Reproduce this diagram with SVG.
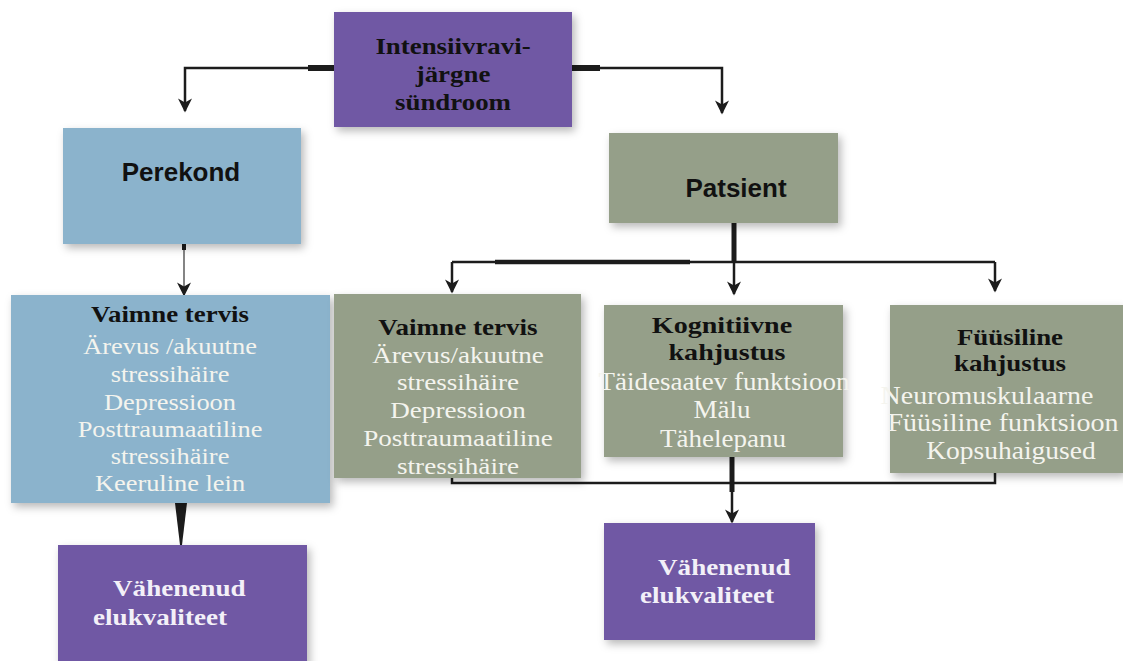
<svg xmlns="http://www.w3.org/2000/svg" width="1123" height="661" viewBox="0 0 1123 661">
<style>
.purple{fill:#7058a4}
.blue{fill:#8bb3cc}
.green{fill:#959f89}
.box{filter:url(#sh)}
.ttl{font-family:"Liberation Serif",serif;font-weight:bold;fill:#111;text-anchor:middle}
.body{font-family:"Liberation Serif",serif;fill:#f4f4ee;text-anchor:middle}
.wt{font-family:"Liberation Serif",serif;font-weight:bold;fill:#f3f0f8;font-size:24px}
.sans{font-family:"Liberation Sans",Arial,sans-serif;font-weight:bold;fill:#111;text-anchor:middle;font-size:26px}
.ln{fill:none;stroke:#1c1c1c;stroke-width:2.5}
</style>
<defs>
<filter id="sh" x="-10%" y="-10%" width="125%" height="130%">
<feDropShadow dx="3" dy="4" stdDeviation="4" flood-color="#000" flood-opacity="0.28"/>
</filter>
<marker id="ar" viewBox="0 0 10 10" refX="9" refY="5" markerWidth="16" markerHeight="14" markerUnits="userSpaceOnUse" orient="auto">
<path d="M0,0 L10,5 L0,10 L3,5 z" fill="#1c1c1c"/>
</marker>
</defs>
<rect width="1123" height="661" fill="#fff"/>

<g id="connectors">
<path class="ln" d="M334,68 H185 V111" marker-end="url(#ar)"/>
<rect x="308" y="65" width="26" height="6" fill="#1c1c1c"/>
<path class="ln" d="M572,68 H722 V113" marker-end="url(#ar)"/>
<rect x="572" y="65" width="28" height="6" fill="#1c1c1c"/>
<path d="M184,244 V295" fill="none" stroke="#333" stroke-width="1.2" marker-end="url(#ar)"/>
<rect x="182" y="244" width="4" height="6" fill="#1c1c1c"/>
<polygon points="175,503 187,503 182,545 180,545" fill="#1c1c1c"/>
<path d="M734,223 V262" fill="none" stroke="#1c1c1c" stroke-width="5"/>
<path class="ln" d="M452,262 H995"/>
<path d="M495,262 H690" fill="none" stroke="#1c1c1c" stroke-width="4.5"/>
<path class="ln" d="M452,262 V292" marker-end="url(#ar)"/>
<path class="ln" d="M734,262 V294" marker-end="url(#ar)"/>
<path class="ln" d="M995,262 V291" marker-end="url(#ar)"/>
<path class="ln" d="M452,478 V483 H995 V472"/>
<path d="M732,457 V492" fill="none" stroke="#1c1c1c" stroke-width="5"/>
<path class="ln" d="M732,488 V522" marker-end="url(#ar)"/>
</g>

<g id="n-syndroom">
<rect class="purple box" x="334" y="12" width="238" height="115"/>
<text class="ttl" font-size="24" transform="translate(453,54) scale(1.12,1)">Intensiivravi-</text>
<text class="ttl" font-size="24" transform="translate(453,82) scale(1.12,1)">järgne</text>
<text class="ttl" font-size="24" transform="translate(453,110) scale(1.12,1)">sündroom</text>
</g>

<g id="n-perekond">
<rect class="blue box" x="63" y="128" width="238" height="116"/>
<text class="sans" x="181" y="181">Perekond</text>
</g>

<g id="n-patsient">
<rect class="green box" x="609" y="133" width="229" height="90"/>
<text class="sans" x="736" y="197">Patsient</text>
</g>

<g id="n-perekond-vaimne">
<rect class="blue box" x="11" y="295" width="319" height="208"/>
<text class="ttl" font-size="24" transform="translate(170,322) scale(1.12,1)">Vaimne tervis</text>
<text class="body" font-size="24" transform="translate(170,354) scale(1.1,1)">Ärevus /akuutne</text>
<text class="body" font-size="24" transform="translate(170,382) scale(1.1,1)">stressihäire</text>
<text class="body" font-size="24" transform="translate(170,410) scale(1.1,1)">Depressioon</text>
<text class="body" font-size="24" transform="translate(170,437) scale(1.1,1)">Posttraumaatiline</text>
<text class="body" font-size="24" transform="translate(170,464) scale(1.1,1)">stressihäire</text>
<text class="body" font-size="24" transform="translate(170,491) scale(1.1,1)">Keeruline lein</text>
</g>

<g id="n-patsient-vaimne">
<rect class="green box" x="334" y="294" width="247" height="184"/>
<text class="ttl" font-size="24" transform="translate(458,335) scale(1.13,1)">Vaimne tervis</text>
<text class="body" font-size="24" transform="translate(458,363) scale(1.13,1)">Ärevus/akuutne</text>
<text class="body" font-size="24" transform="translate(458,390) scale(1.13,1)">stressihäire</text>
<text class="body" font-size="24" transform="translate(458,418) scale(1.13,1)">Depressioon</text>
<text class="body" font-size="24" transform="translate(458,446) scale(1.13,1)">Posttraumaatiline</text>
<text class="body" font-size="24" transform="translate(458,474) scale(1.13,1)">stressihäire</text>
</g>

<g id="n-kognitiivne">
<rect class="green box" x="604" y="305" width="239" height="152"/>
<text class="ttl" font-size="24" transform="translate(722,333) scale(1.17,1)">Kognitiivne</text>
<text class="ttl" font-size="24" transform="translate(727,360) scale(1.17,1)">kahjustus</text>
<text class="body" font-size="25" transform="translate(724,390) scale(1.08,1)">Täidesaatev funktsioon</text>
<text class="body" font-size="25" transform="translate(722,418) scale(1.08,1)">Mälu</text>
<text class="body" font-size="25" transform="translate(723,447) scale(1.08,1)">Tähelepanu</text>
</g>

<g id="n-fyysiline">
<rect class="green box" x="890" y="305" width="233" height="168"/>
<text class="ttl" font-size="23" transform="translate(1010,345) scale(1.17,1)">Füüsiline</text>
<text class="ttl" font-size="23" transform="translate(1010,371) scale(1.17,1)">kahjustus</text>
<text class="body" font-size="25" transform="translate(987,404) scale(1.12,1)">Neuromuskulaarne</text>
<text class="body" font-size="25" transform="translate(1003,431) scale(1.12,1)">Füüsiline funktsioon</text>
<text class="body" font-size="25" transform="translate(1011,459) scale(1.1,1)">Kopsuhaigused</text>
</g>

<g id="n-elu-left">
<rect class="purple box" x="58" y="545" width="249" height="120"/>
<text class="wt" transform="translate(113,596) scale(1.13,1)">Vähenenud</text>
<text class="wt" transform="translate(93,625) scale(1.13,1)">elukvaliteet</text>
</g>

<g id="n-elu-right">
<rect class="purple box" x="604" y="523" width="211" height="117"/>
<text class="wt" transform="translate(658,575) scale(1.13,1)">Vähenenud</text>
<text class="wt" transform="translate(640,603) scale(1.13,1)">elukvaliteet</text>
</g>
</svg>
